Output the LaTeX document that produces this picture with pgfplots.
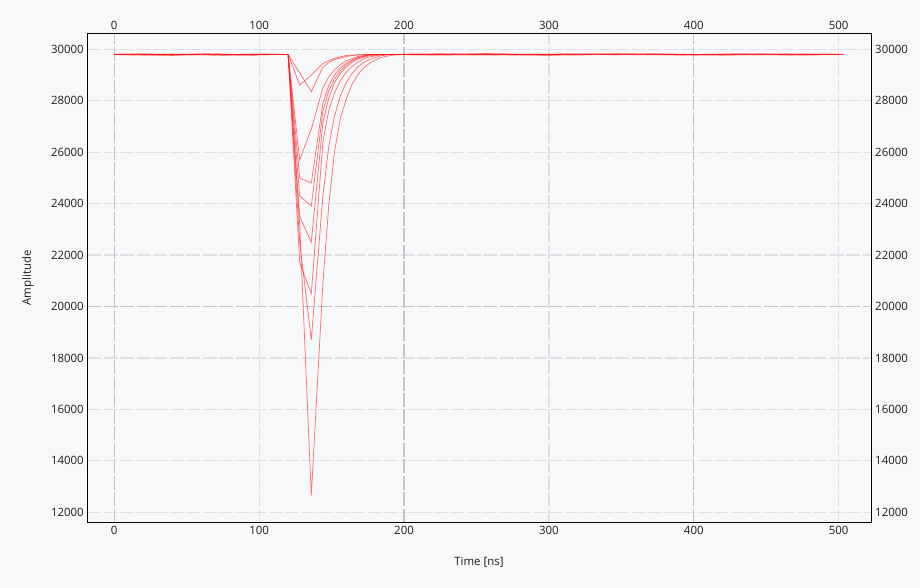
\documentclass[border=0pt]{standalone}
\usepackage{pgfplots}
\pgfplotsset{compat=1.18}
\usepackage{fontspec}
\setmainfont{Open Sans}
\definecolor{bg}{HTML}{F7F8FA}
\definecolor{gridl}{HTML}{E0E1E4}
\definecolor{gridd}{HTML}{C4C5C8}
\definecolor{txt}{HTML}{1E1E1E}
\definecolor{trace}{HTML}{FF1A1A}
\pgfplotsset{
  common/.style={
    at={(87.3bp,65.3bp)}, anchor=south west,
    scale only axis, width=784.4bp, height=489.4bp,
    xmin=-18.6, xmax=522.8, ymin=11596, ymax=30622,
    scaled x ticks=false, scaled y ticks=false,
    xtick={0,100,200,300,400,500},
    xticklabels={0,100,200,300,400,500},
    ytick={12000,14000,16000,18000,20000,22000,24000,26000,28000,30000},
    yticklabels={12000,14000,16000,18000,20000,22000,24000,26000,28000,30000},
    major tick length=0pt, minor tick length=0pt,
    axis line style={black, line width=1.2bp},
    tick label style={font=\fontsize{11.5}{13}\selectfont, text=txt},
  },
  tr/.style={trace, opacity=0.6, line width=0.75bp, mark=none},
}
\begin{document}
\begin{tikzpicture}[x=1bp,y=1bp]
\fill[bg] (0,0) rectangle (920,588);
\begin{axis}[common,
    grid=major,
    major grid style={gridl, line width=1.2bp, dash pattern=on 14bp off 2.5bp},
    extra x ticks={0,200,400}, extra x tick labels={},
    extra y ticks={20000}, extra y tick labels={},
    extra tick style={grid=major, major grid style={gridd, line width=1.2bp, dash pattern=on 14bp off 2.5bp}},
    xticklabel pos=lower, yticklabel pos=left,
]
% A (deepest)
\addplot[tr] coordinates {(0,29800) (12,29780) (24,29790) (40,29770) (56,29805) (72,29790) (88,29780) (104,29810) (112,29800) (120,29800) (128,23200) (136,12650) (144,20900) (148,23900) (152,26000) (156,27300) (160,28050) (164,28620) (168,29000) (172,29270) (176,29450) (180,29580) (184,29680) (192,29770) (200,29800) (224,29815) (248,29790) (264,29780) (288,29805) (330,29820) (360,29790) (392,29810) (420,29785) (448,29805) (476,29790) (503,29800)};
% B
\addplot[tr] coordinates {(0,29810) (16,29795) (32,29775) (48,29800) (64,29815) (80,29790) (96,29780) (112,29800) (120,29800) (128,22500) (136,18700) (144,24300) (148,26200) (152,27400) (156,28180) (160,28700) (164,29050) (168,29300) (172,29480) (176,29600) (184,29750) (192,29800) (216,29785) (240,29810) (256,29820) (272,29790) (304,29780) (344,29805) (376,29815) (408,29790) (440,29810) (472,29785) (503,29800)};
% C
\addplot[tr] coordinates {(0,29790) (20,29805) (40,29770) (56,29795) (72,29815) (88,29790) (104,29805) (120,29800) (128,21700) (136,20500) (144,26400) (148,27600) (152,28300) (156,28780) (160,29100) (164,29330) (168,29500) (172,29620) (176,29700) (184,29790) (200,29800) (232,29780) (260,29830) (272,29820) (296,29790) (328,29810) (360,29795) (392,29780) (424,29815) (456,29795) (490,29810) (503,29800)};
% D
\addplot[tr] coordinates {(0,29800) (24,29815) (48,29785) (64,29800) (80,29810) (96,29780) (112,29800) (120,29800) (128,23500) (136,22500) (144,27150) (148,28100) (152,28700) (156,29060) (160,29300) (164,29480) (168,29620) (176,29750) (184,29800) (216,29810) (248,29785) (280,29800) (312,29815) (344,29790) (376,29805) (400,29780) (440,29810) (480,29790) (503,29800)};
% J
\addplot[tr] coordinates {(0,29800) (16,29815) (36,29785) (52,29800) (72,29775) (92,29810) (112,29800) (120,29800) (128,24300) (136,23900) (144,27600) (148,28370) (152,28850) (156,29160) (160,29380) (164,29540) (168,29660) (176,29780) (192,29800) (224,29790) (256,29815) (288,29785) (320,29800) (352,29820) (376,29795) (416,29805) (464,29780) (503,29800)};
% E
\addplot[tr] coordinates {(0,29795) (20,29780) (40,29805) (64,29815) (88,29785) (112,29800) (120,29800) (128,25000) (136,24800) (144,27900) (148,28580) (152,29000) (156,29270) (160,29450) (164,29580) (168,29680) (176,29780) (192,29800) (232,29815) (264,29800) (296,29780) (352,29805) (384,29790) (432,29815) (468,29790) (503,29800)};
% I
\addplot[tr] coordinates {(0,29800) (28,29790) (56,29810) (76,29780) (96,29805) (112,29800) (120,29800) (128,25700) (136,26900) (144,28500) (148,28930) (152,29200) (156,29400) (160,29550) (168,29720) (176,29790) (192,29800) (240,29785) (280,29810) (320,29790) (368,29815) (408,29785) (448,29805) (503,29800)};
% G (shallow, late)
\addplot[tr] coordinates {(0,29800) (32,29810) (60,29785) (80,29800) (112,29805) (120,29800) (128,29080) (136,28350) (144,29300) (148,29480) (152,29600) (160,29720) (168,29790) (184,29800) (232,29805) (296,29785) (336,29810) (384,29795) (424,29780) (472,29810) (503,29800)};
% H (shallow, early)
\addplot[tr] coordinates {(0,29805) (24,29790) (48,29810) (76,29780) (104,29795) (120,29800) (128,28610) (136,29000) (144,29450) (152,29650) (160,29760) (176,29800) (208,29790) (240,29810) (284,29785) (328,29795) (368,29810) (416,29790) (456,29815) (503,29800)};
\end{axis}
\begin{axis}[common,
    xticklabel pos=upper, yticklabel pos=right,
]
\end{axis}
\node[font=\fontsize{11.5}{13}\selectfont, text=txt] at (479,26) {Time [ns]};
\node[font=\fontsize{11.5}{13}\selectfont, text=txt, rotate=90] at (28,310) {Amplitude};
\end{tikzpicture}
\end{document}
